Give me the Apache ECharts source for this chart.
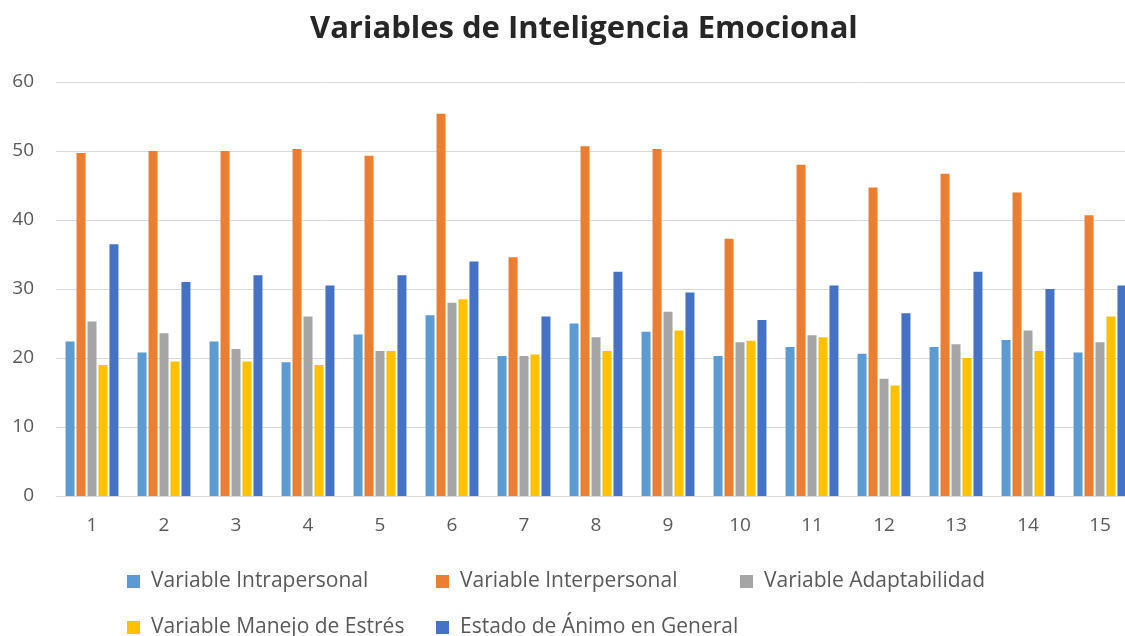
<!DOCTYPE html>
<html>
<head>
<meta charset="utf-8">
<script src="https://cdn.jsdelivr.net/npm/echarts@6/dist/echarts.min.js"></script>
<style>html,body{margin:0;padding:0;background:#fff}#c{width:1125px;height:636px}</style>
</head>
<body>
<div id="c"></div>
<script>
const categories = ['1','2','3','4','5','6','7','8','9','10','11','12','13','14','15'];
const intrapersonal = [22.4,20.8,22.4,19.4,23.4,26.2,20.3,25.0,23.8,20.3,21.6,20.6,21.6,22.6,20.8];
const interpersonal = [49.7,50.0,50.0,50.3,49.3,55.4,34.6,50.7,50.3,37.3,48.0,44.7,46.7,44.0,40.7];
const adaptabilidad = [25.3,23.6,21.3,26.0,21.0,28.0,20.3,23.0,26.7,22.3,23.3,17.0,22.0,24.0,22.3];
const manejoEstres = [19.0,19.5,19.5,19.0,21.0,28.5,20.5,21.0,24.0,22.5,23.0,16.0,20.0,21.0,26.0];
const estadoAnimo = [36.5,31.0,32.0,30.5,32.0,34.0,26.0,32.5,29.5,25.5,30.5,26.5,32.5,30.0,30.5];
const seriesNames = ['Variable Intrapersonal','Variable Interpersonal','Variable Adaptabilidad','Variable Manejo de Estrés','Estado de Ánimo en General'];
const colors = ['#5B9BD5','#ED7D31','#A5A5A5','#FFC000','#4472C4'];
const allData = [intrapersonal, interpersonal, adaptabilidad, manejoEstres, estadoAnimo];

const legendLeft = [127, 436, 740, 127, 436];
const legendTop = [571, 571, 571, 617, 617];

const chart = echarts.init(document.getElementById('c'), null, {renderer:'canvas'});
const legendText = {color:'#595959', fontSize:21, fontFamily:'Open Sans', padding:[0,0,0,6]};
chart.setOption({
  animation:false,
  color: colors,
  title:{text:'Variables de Inteligencia Emocional', left:305, top:9,
    textStyle:{fontFamily:'Open Sans', fontWeight:'bold', fontSize:31, color:'#262626'}},
  legend: seriesNames.map((n,i)=>({data:[n], left:legendLeft[i], top:legendTop[i],
    itemWidth:13, itemHeight:13, icon:'rect', padding:0, textStyle:legendText})),
  grid:{left:56, top:82, right:-11, bottom:140, outerBoundsMode:'none', containLabel:false},
  xAxis:{type:'category', data:categories,
    axisLine:{lineStyle:{color:'#D9D9D9', width:1}}, axisTick:{show:false},
    axisLabel:{color:'#595959', fontSize:19, fontFamily:'Open Sans', margin:20}},
  yAxis:{type:'value', min:0, max:60, interval:10,
    axisLine:{show:false}, axisTick:{show:false},
    splitLine:{lineStyle:{color:'#D9D9D9', width:1}},
    axisLabel:{color:'#595959', fontSize:19, fontFamily:'Open Sans', margin:22}},
  series: allData.map((d,i)=>({name:seriesNames[i], type:'bar', data:d,
    barWidth:9, barGap:'22%', itemStyle:{color:colors[i]}}))
});
</script>
</body>
</html>
